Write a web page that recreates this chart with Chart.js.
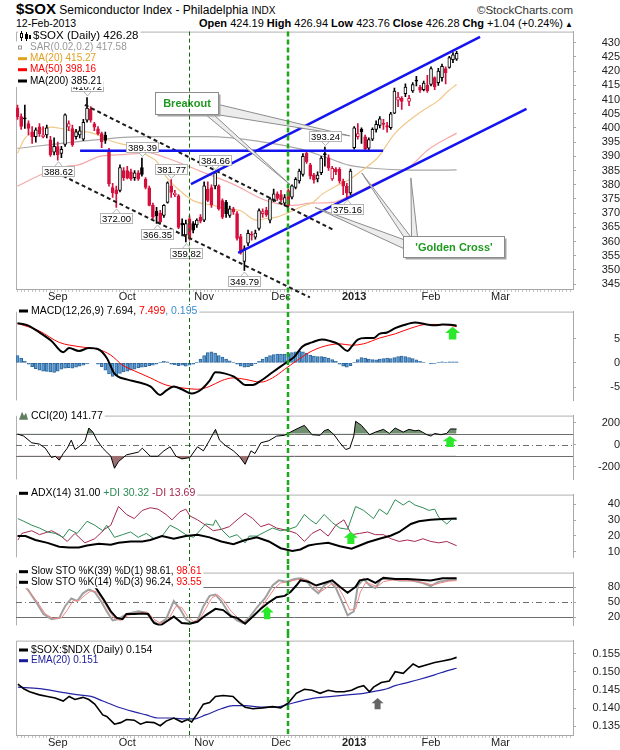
<!DOCTYPE html>
<html>
<head>
<meta charset="utf-8">
<script src="https://cdn.jsdelivr.net/npm/chart.js@4.4.1/dist/chart.umd.min.js"></script>
<style>
  body { margin: 0; background: #fff; width: 620px; height: 750px; overflow: hidden; position: relative; font-family: "Liberation Sans", Arial, sans-serif; }
  canvas { position: absolute; left: 0; }
  .hd { position: absolute; white-space: nowrap; color: #000; }
</style>
</head>
<body>
<div class="hd" style="left:16px;top:0;line-height:18px"><span style="font-weight:bold;font-size:15px">$SOX</span><span style="font-size:12px"> Semiconductor Index - Philadelphia </span><span style="font-size:10px">INDX</span></div>
<div class="hd" style="right:47px;top:2px;line-height:16px;font-size:11.5px;color:#333">&copy;StockCharts.com</div>
<div class="hd" style="left:16px;top:17px;line-height:12px;font-size:10.5px">12-Feb-2013</div>
<div class="hd" style="right:47px;top:17px;line-height:12px;font-size:11px"><b>Open</b> 424.19 <b>High</b> 426.94 <b>Low</b> 423.76 <b>Close</b> 426.28 <b>Chg</b> +1.04 (+0.24%)<span style="font-size:8px"> &#9650;</span></div>

<canvas id="cMain" width="620" height="280" style="top:24px"></canvas>
<canvas id="cMacd" width="620" height="104" style="top:304px"></canvas>
<canvas id="cCci" width="620" height="79" style="top:408px"></canvas>
<canvas id="cAdx" width="620" height="78" style="top:487px"></canvas>
<canvas id="cSto" width="620" height="68" style="top:565px"></canvas>
<canvas id="cRatio" width="620" height="117" style="top:633px"></canvas>

<script>
const FONT = '"Liberation Sans", Arial, sans-serif';
Chart.defaults.font.family = FONT;

// time axis: one slot per trading day, bar 0 = 17-Aug-2012
const monthBars = [11, 30, 51, 72, 92, 113, 132];
const monthLabels = ['Sep', 'Oct', 'Nov', 'Dec', '2013', 'Feb', 'Mar'];
const markerBars = [47, 74];

// $SOX daily candles
const open = [
  407.0,404.0,403.5,401.5,398.6,396.9,400.4,396.8,397.5,395.8,
  391.5,393.4,391.0,394.2,400.3,399.8,396.9,397.5,396.0,402.7,
  406.6,401.4,399.7,398.0,397.5,392.3,379.0,378.2,378.0,385.0,
  385.0,384.5,382.5,384.2,386.0,382.0,378.9,372.7,370.7,370.0,
  369.2,373.8,379.6,376.5,376.1,366.5,362.3,368.0,366.3,365.8,
  368.6,367.5,378.5,379.0,379.6,379.6,374.4,373.8,369.2,371.5,
  369.8,361.7,353.0,359.4,362.6,361.5,364.6,369.8,371.0,367.5,
  374.5,376.8,376.5,373.5,377.9,375.6,379.0,381.3,383.6,391.1,
  387.0,383.5,382.0,384.2,391.0,389.5,382.0,385.5,385.4,381.3,
  379.5,377.1,393.0,396.9,399.5,396.9,392.9,396.0,399.5,400.9,
  401.7,400.8,400.1,405.2,409.8,410.5,412.1,409.3,413.0,416.8,
  414.4,413.5,415.0,415.3,417.7,415.9,417.7,420.9,421.3,424.0,
  424.19];
const high = [
  408.0,405.0,408.0,402.5,400.5,400.0,401.5,400.5,401.0,397.0,
  396.5,395.0,393.5,405.0,402.5,401.0,399.5,400.5,403.0,410.72,
  407.5,402.0,400.5,398.5,398.5,392.8,380.5,379.5,387.0,386.0,
  386.5,385.5,385.0,385.0,389.39,382.5,379.5,373.5,372.0,371.0,
  373.0,381.0,381.77,378.0,376.5,368.0,367.5,369.0,367.0,368.0,
  369.5,381.0,381.0,380.0,384.66,380.0,375.0,374.5,372.5,372.0,
  370.5,362.5,358.5,364.0,363.5,364.0,371.5,371.5,372.0,375.5,
  378.5,377.5,378.0,376.5,378.5,380.0,382.5,385.5,391.0,392.0,
  387.5,384.0,384.5,390.0,393.24,390.5,386.5,386.0,386.0,382.0,
  380.5,385.5,400.5,401.5,400.0,397.5,396.5,400.0,402.5,404.0,
  403.0,402.0,405.5,414.0,412.5,411.0,415.5,411.5,416.0,418.2,
  415.0,416.5,418.5,421.5,418.0,421.0,422.5,421.5,425.2,426.5,
  426.94];
const low = [
  403.0,399.5,399.8,397.5,394.5,395.0,397.0,396.5,396.5,390.0,
  390.5,388.62,389.5,393.5,399.0,393.5,396.0,396.5,395.5,402.0,
  402.0,399.0,397.5,393.0,394.5,379.5,375.5,372.00,377.5,381.5,
  382.0,381.5,381.5,381.5,383.0,378.5,372.5,368.0,366.35,366.5,
  368.5,373.5,375.5,375.8,364.5,362.0,359.82,360.5,363.0,365.0,
  366.5,367.0,374.0,372.0,378.5,371.0,368.0,368.5,368.5,369.5,
  360.5,355.5,349.79,358.5,360.5,360.8,364.0,368.5,368.8,366.5,
  374.0,374.5,374.0,372.5,372.0,375.0,378.5,380.5,383.0,387.5,
  382.0,380.5,381.0,383.5,386.5,385.0,381.5,383.5,380.5,376.5,
  375.16,376.5,392.5,396.0,394.5,391.7,392.0,395.5,398.5,400.0,
  399.5,398.5,399.5,405.0,407.5,406.5,411.0,407.8,412.5,414.8,
  412.5,413.0,412.5,414.8,413.5,415.0,416.5,415.5,421.0,423.0,
  423.76];
const close = [
  404.0,400.5,403.2,399.8,396.9,399.3,398.0,397.6,400.0,390.6,
  393.5,390.5,392.5,404.6,401.5,394.1,398.6,399.0,402.0,407.0,
  402.7,400.3,398.0,395.2,395.6,380.3,377.2,376.8,386.0,382.5,
  382.3,382.0,384.2,382.0,383.6,379.0,372.7,368.6,369.0,366.9,
  372.7,380.7,377.3,377.0,365.0,365.8,366.3,361.1,364.0,367.5,
  367.2,379.6,374.5,373.0,384.2,371.5,368.6,369.8,371.5,370.4,
  361.1,356.0,357.5,362.9,362.2,363.0,370.9,370.5,369.4,375.0,
  376.8,375.2,374.6,375.5,372.7,379.6,381.9,384.8,390.0,388.0,
  383.0,381.7,383.4,389.4,390.5,386.0,385.8,384.5,381.3,379.5,
  377.0,384.8,400.0,398.0,398.6,392.5,395.9,399.5,401.3,403.2,
  401.2,400.3,405.0,413.0,410.9,409.3,414.4,410.4,415.3,416.5,
  413.3,415.8,413.0,420.9,414.4,420.0,421.7,419.4,424.8,425.7,
  426.28];

// moving averages: [bar, value]
const ma20 = [[0,391.1],[2,396.3],[6,399.2],[9,400.3],[12,399.8],[15,398.9],[19,398.6],[22,397.5],[26,395.2],[29.5,394],[33,392.8],[35.3,390.5],[38,388.2],[40.8,382.5],[44.4,377.9],[48,374.4],[53.5,372.7],[57.2,371.5],[60.8,370.9],[65.4,367.5],[68,368.1],[70.8,368.6],[74.5,370.4],[78,372.5],[80.8,373.8],[83.1,376.5],[87.2,379.6],[90.8,381.9],[94.5,385.4],[98.4,389.5],[103.1,398],[109.5,405],[112.2,407.3],[115,409.6],[117.7,413],[120,415.27]];
const ma50 = [[0,379.5],[7.6,384.2],[13.4,386.5],[16.7,387],[22.5,390],[25.8,390.4],[33.5,391.1],[34.9,391.5],[40.8,389.4],[49.9,384.8],[58.9,380.2],[68,374.4],[75.3,372.7],[80,373.5],[86.2,373.8],[91.7,376.7],[97.2,380.2],[102.6,383.6],[107.2,386.4],[112.2,392.3],[120,398.16]];
const ma200 = [[0,392.8],[16.7,395.2],[34.9,396.9],[52.6,396.9],[66.3,395.2],[77.2,392.6],[84.8,389.4],[90.8,386.8],[97,385.8],[104.5,385.2],[112,385.1],[120,385.21]];

// MACD(12,26,9)
const macdLine = [[0,8.17],[2.8,7.76],[6,6.29],[9.3,4.52],[12.5,2.18],[14.1,3.06],[16.8,2.47],[19.5,3.06],[22.2,2.76],[24.4,1.0],[26.5,-2.23],[29.8,-3.41],[33,-4.0],[36.3,-4.88],[39,-6.64],[40.6,-5.76],[42.7,-4.88],[44.9,-5.47],[47.6,-6.35],[50.3,-5.47],[52.5,-3.7],[54.1,-1.94],[56.8,-2.23],[59,-2.82],[60.6,-3.7],[62.2,-4.59],[64.3,-4.59],[66.5,-3.7],[69.7,-1.94],[73,-0.18],[75.7,1.29],[77.8,3.35],[80.5,4.23],[83.2,4.82],[85.4,4.52],[87.6,3.94],[90.2,2.47],[91.3,3.35],[93,4.82],[95.1,5.12],[97.3,5.12],[98.9,6.0],[101,6.29],[103.2,7.17],[105.4,7.76],[108.6,8.35],[111.8,7.94],[114,7.76],[116.2,7.94],[118.3,7.88],[120,7.694]];
const signalLine = [[0,8.17],[6,6.58],[11.4,4.23],[16.8,3.35],[22.2,2.76],[25.5,1.59],[28.7,-0.47],[31.9,-1.64],[36.3,-3.11],[40.6,-4.59],[44.9,-5.17],[49.2,-5.47],[52.5,-4.88],[55.7,-3.7],[59,-3.11],[62.2,-3.41],[66.5,-4.0],[69.7,-3.11],[73,-1.35],[76.2,0.41],[80.5,2.47],[84.9,3.64],[88.1,3.94],[91.3,3.64],[94.6,3.94],[98.9,5.12],[103.2,6.0],[107.5,7.17],[111.8,7.94],[116.2,7.94],[120,7.499]];
const macdHist = [
  1.5,1.0, 0.3,-0.3,-0.8,-1.2,-1.5, -1.7,-1.8,-1.9,-2.0,-1.7,-1.3,
  -1.1,-1.0,-1.1,-0.9,-0.7,-0.5, -0.2,0.0,0.0,-0.3,-0.8,
  -1.5,-2.3,-2.8,-2.5,-2.2,-1.9, -1.7,-1.5,-1.3,-1.0,-0.9,-0.8,
  -0.6,-0.5,-0.3,0.1,0.3,0.2, -0.3,-0.4,-0.6,-0.5,-0.7,-0.5,
  -0.3,0.1,0.8,1.5,2.1, 2.3,2.0,1.5,1.2,0.8,0.4,
  0.1,-0.3,-0.7,-0.9,-0.8,-0.6, -0.2,0.3,0.8,1.2,1.5,1.7,
  1.8,1.8,1.8,1.9,2.1,2.3, 2.4,2.3,2.0,1.6,1.4,1.3,
  1.3,1.2,1.0,0.7,0.3,-0.3, -0.7,-0.9,-0.6,0.1,0.7,
  1.1,1.0,0.8,0.7,0.6,0.8, 0.9,1.0,0.9,1.1,1.3,1.4,
  1.3,1.1,0.9,0.6,0.3,0.1, 0.0,-0.2,-0.1,0.1,0.2,0.1,
  0.2,0.2,0.195];

// CCI(20)
const cci = [[0,97],[1.7,78],[3.9,17],[6,5],[7.6,-32],[9.3,-117],[10.3,-105],[11.4,-141],[12.5,-80],[13.6,-32],[14.7,41],[15.7,-44],[16.8,-19],[18.4,29],[19.5,151],[20.6,114],[21.7,41],[23.3,-32],[24.4,-68],[25.5,-105],[26.5,-214],[27.6,-153],[29.8,-92],[33,-68],[34.1,-32],[36.3,-105],[38.4,-105],[40,-56],[41.7,-19],[43.3,-105],[44.9,-129],[47.1,-117],[49.2,-19],[50.8,-56],[52.5,41],[54.1,139],[55.2,41],[56.8,-7],[59,-56],[60.6,-105],[62.2,-178],[63.8,-56],[64.9,-80],[66.5,17],[68.7,36],[70.8,78],[73,85],[74.6,114],[76.8,151],[78.4,175],[80.5,90],[82.7,85],[83.8,126],[84.9,139],[86.5,90],[88.1,17],[89.7,-44],[90.8,-32],[91.9,78],[92.4,212],[94,175],[96.2,90],[97.8,114],[100,139],[101.6,102],[103.2,151],[105.4,114],[107,139],[108.6,126],[109.7,131],[111.9,90],[113,78],[114,102],[115.7,90],[117.3,102],[118.3,143],[120,141.77]];

// ADX(14) with +DI / -DI
const adx = [[0,19.8],[2.2,19.8],[4.9,17.3],[8.2,15.5],[11.4,13],[14.1,12.6],[16.8,12.6],[19,13.8],[22.2,15],[25.5,14.3],[27.6,15.5],[30.9,16.4],[34.1,16.4],[36.3,17.3],[39.5,19.8],[42.7,18.1],[46,19.8],[49.2,20.7],[52.5,19],[55.7,16.4],[59,14.7],[62.2,17.3],[65.4,19],[68.7,16.4],[71.9,12.1],[75.1,10.4],[77.3,11.3],[79.5,13.8],[81.6,14.7],[84.9,15.5],[88.1,13.3],[91.3,11.8],[93.5,13.8],[95.7,15.9],[98.9,18.1],[102.1,20.2],[104.3,22.4],[107.5,27.5],[109.7,29.2],[112.9,30.1],[116.2,30.6],[120,31.0]];
const plusDI = [[0.1,30.9],[1.7,29.2],[3.9,26.7],[6,24.9],[8.2,22.4],[10.3,21.5],[12.5,19],[14.1,24.1],[16.3,21.5],[19,29.2],[21.1,26.7],[23.3,23.2],[24.4,26.7],[26.5,19],[28.7,20.7],[30.9,22.4],[33,19],[35.2,21.5],[37.3,18.1],[39.5,19.8],[41.7,26.7],[43.8,24.1],[46,20.7],[48.1,19],[49.8,23.2],[51.4,27.5],[53.5,26.7],[54.1,30.1],[55.7,24.1],[57.9,19],[60,20.7],[62.2,15.5],[63.3,19.8],[65.4,19.8],[67.6,22.4],[69.7,24.9],[71.9,23.2],[74.1,24.1],[76.2,25.8],[78.4,33.5],[80,30.1],[81.6,27.5],[83.8,33.5],[86,28.4],[88.1,24.9],[90.2,24.1],[92.4,38.6],[94.6,36.1],[97.3,30.9],[98.9,36.9],[101,33.5],[103.2,42.9],[105.4,39.5],[107,42.1],[108.6,39.5],[110.8,37.8],[112.4,36.1],[114,36.9],[115.1,31.8],[117.3,27.5],[118.9,30.9],[120,30.32]];
const minusDI = [[0.1,17.3],[1.2,21.5],[3.9,23.2],[6,20.7],[9.3,23.2],[11.4,20.7],[13.6,16.4],[15.7,21.5],[18.4,15.5],[21.1,18.1],[23.8,24.1],[25.5,26.7],[27.6,38.6],[29.8,33.5],[31.9,30.9],[34.1,36.1],[36.3,37.8],[38.4,36.9],[40.6,33.5],[42.2,30.1],[44.4,35.2],[46,36.9],[47.1,32.6],[49.2,30.1],[51.4,26.7],[53.5,23.2],[55.7,24.1],[57.9,25.8],[60,30.1],[62.2,34.3],[64.3,30.9],[66.5,25.8],[68.7,27.5],[70.8,24.9],[74.1,23.2],[76.2,21.5],[78.4,16.4],[80.5,21.5],[82.7,24.1],[84.9,19.8],[87,26.7],[89.2,30.1],[91.3,20.7],[93.5,21.5],[95.7,22.4],[97.8,20.7],[100,20.7],[102.1,18.1],[104.3,16.4],[106.5,17.3],[108.6,16.4],[110.8,18.1],[112.9,16.4],[115.1,15.5],[117.3,16.4],[120,13.69]];

// Slow stochastics
const stoK39 = [[20.5,86],[21.7,75.9],[23.8,52.4],[25.5,31.5],[27.1,18.4],[28.7,15.8],[29.8,26.3],[31.9,26.3],[34.1,27.3],[35.7,26.3],[37.3,8],[39,2.8],[40.6,10.6],[42.7,21],[44.9,8],[47.1,6.4],[49.2,10.6],[51.4,23.6],[54.1,36.7],[56.2,34.1],[58.4,21],[60,18.4],[62.2,6.4],[64.3,21],[66.5,36.7],[68.7,49.8],[70.8,60.2],[73,62.8],[74.6,70.6],[76.2,83.7],[77.3,94.1],[79.5,91.5],[81.6,83.7],[83.8,88.9],[86,94.1],[88.1,81.1],[90.2,69.1],[92.4,81.1],[93.5,94.1],[95.7,96.8],[97.8,88.9],[100,99.4],[103.2,96.8],[106.5,96.8],[109.7,95.2],[112.9,94.1],[116.2,98.3],[120,98.61]];
const stoK14 = [[1.5,86],[2.8,75.9],[4.9,52.4],[7.1,26.3],[9.3,15.8],[11.4,18.4],[13,41.9],[14.7,57.6],[16.3,52.4],[17.9,68],[19.5,75.9],[21.1,70.6],[22.8,52.4],[24.4,31.5],[26,13.2],[27.6,15.8],[29.8,26.3],[33,31.5],[35.2,28.9],[36.8,13.2],[38.4,5.4],[40.6,15.8],[42.7,52.4],[44.4,36.7],[46,15.8],[47.6,8],[49.2,13.2],[50.8,41.9],[52.5,62.8],[54.1,65.4],[55.7,52.4],[57.9,26.3],[60,13.2],[61.6,8],[63.3,18.4],[65.4,39.3],[67.6,57.6],[69.7,83.7],[71.4,94.1],[73.5,91.5],[75.7,96.8],[77.3,98.3],[78.9,94.1],[80.5,78.5],[82.2,68],[83.8,83.7],[85.4,91.5],[87,78.5],[88.6,52.4],[90.2,23.6],[91.9,31.5],[93,83.7],[94.6,96.8],[96.2,83.7],[97.8,78.5],[99.4,96.8],[102.1,96.8],[104.3,94.1],[107.5,94.1],[110.8,88.9],[112.9,82.7],[115.1,91.5],[117.3,94.1],[120,96.24]];
const stoD3 = [[2,80],[3.3,70.6],[5.5,49.8],[7.6,26.3],[9.8,16.9],[12,18.4],[13.6,34.1],[15.2,53.4],[16.8,53.4],[18.4,63.9],[20.1,73.3],[21.7,70.6],[23.3,55],[24.9,34.1],[26.5,16.9],[28.2,13.2],[30.3,23.6],[33,28.9],[35.7,28.9],[37.3,15.8],[39,8],[41.1,13.2],[43.3,41.9],[44.9,39.3],[46.5,21],[48.1,10.6],[49.8,15.8],[51.4,36.7],[53,57.6],[54.6,65.4],[56.2,55],[58.4,31.5],[60.6,15.8],[62.2,9.5],[63.8,15.8],[66,34.1],[68.1,55],[70.3,78.5],[71.9,88.9],[74.1,91.5],[76.2,95.2],[77.8,96.8],[79.5,94.1],[81.1,81.1],[82.7,70.6],[84.3,78.5],[86,87.9],[87.6,81.1],[89.2,60.2],[90.8,34.1],[92.4,36.7],[93.7,70.6],[95.1,88.9],[96.7,86.3],[98.3,81.1],[100,91.5],[102.7,95.2],[104.8,94.1],[108.1,93.1],[111.3,88.9],[113.5,84.7],[115.6,88.9],[117.8,92.6],[120,93.55]];

// $SOX:$NDX ratio and its EMA(20)
const ratio = [[0.1,0.14662],[1.7,0.14535],[3.3,0.1445],[6,0.14365],[8.2,0.14322],[10.3,0.1428],[12.5,0.14194],[14.1,0.14322],[15.7,0.14237],[17.9,0.14296],[19.5,0.14237],[21.1,0.14109],[23.3,0.13811],[24.4,0.13769],[26.5,0.13556],[28.2,0.13598],[29.8,0.13683],[31.9,0.13666],[33.6,0.13556],[35.2,0.13615],[37.3,0.13598],[39,0.13513],[40.6,0.13641],[42.7,0.13726],[44.9,0.13615],[46.5,0.13683],[47.6,0.13615],[49.2,0.13854],[50.8,0.14109],[52.5,0.14152],[54.1,0.14322],[56.2,0.14348],[58.9,0.14322],[60.6,0.14152],[62.2,0.14024],[64.3,0.13981],[67,0.14007],[69.7,0.14041],[71.9,0.14007],[74.1,0.14152],[76.2,0.14407],[78.4,0.14518],[80.5,0.14492],[82.7,0.14407],[84.9,0.14492],[87,0.1445],[89.2,0.1445],[91.3,0.14492],[93,0.14577],[94.6,0.1462],[96.2,0.1445],[97.3,0.14577],[99.4,0.14705],[101.6,0.14748],[103.2,0.15003],[105.4,0.14961],[108.1,0.15216],[109.7,0.15131],[111.9,0.15199],[114,0.15259],[116.2,0.15301],[118.3,0.15344],[120,0.154]];
const ema20 = [[0.1,0.14577],[6,0.14535],[11.4,0.1445],[16.8,0.14365],[20.1,0.14322],[23.3,0.14194],[27.6,0.14024],[31.9,0.13896],[35.2,0.13811],[38.4,0.13726],[41.7,0.13726],[44.9,0.13701],[48.1,0.13701],[51.4,0.13811],[55.7,0.13981],[59,0.14067],[62.2,0.14067],[66.5,0.14024],[70.8,0.14024],[74.1,0.14109],[77.3,0.14194],[81.6,0.1428],[86,0.14322],[90.2,0.14365],[94.6,0.14407],[97.8,0.14467],[101,0.14535],[103.2,0.1462],[106.5,0.14705],[109.7,0.1479],[114,0.14918],[117.3,0.15029],[120,0.151]];

// axis tick values
const mainTicks = [345,350,355,360,365,370,375,380,385,390,395,400,405,410,415,420,425,430];
const macdTicks = [-5, 0, 5];
const cciTicks = [-200, 0, 200];
const adxTicks = [10, 20, 30, 40];
const stoTicks = [20, 50, 80];
const ratioTicks = [0.135, 0.140, 0.145, 0.150, 0.155];

// drawn annotations, in [bar, value] terms
const blueLines = [[47.4,380.2,126.4,432.1],[60.3,356.0,139.1,406.7],[17.1,392.0,99.9,392.0]];
const dashLines = [[18.4,408.1,86.2,364.2],[10.7,384.2,79.9,340.3]];
const priceTags = [[11,'L'],[19,'H'],[27,'L'],[34,'H'],[38,'L'],[42,'H'],[46,'L'],[54,'H'],[62,'L'],[84,'H'],[90,'L']];
const callouts = [
  {text: 'Breakout', at: [37.6, 412.5], w: 63, h: 22, tips: [[90.8, 397.2], [74.5, 380.0]], bases: [[63, 12, 61, 22], [50, 22, 58, 22]]},
  {text: "'Golden Cross'", at: [105.4, 361.9], w: 101, h: 21, tips: [[81.3, 372.0], [94.1, 384.1], [107.5, 382.4]], bases: [[0, 3, 0, 12], [0, 0, 7, 0], [8, 0, 14, 0]]}
];

const RED = '#d4103c';
const pts = a => a.map(([x, y]) => ({x, y}));
const candleColor = close.map((c, i) => (i > 0 && c >= close[i - 1]) ? '#000' : RED);
const bodyFill = close.map((c, i) => c > open[i] ? '#fff' : candleColor[i]);

function xScale(show, h) {
  return {
    type: 'linear', min: -0.41, max: 151.8, display: show, offset: false,
    afterBuildTicks: s => { const t = []; for (let k = 0; k <= 151; k++) t.push({value: k}); s.ticks = t; },
    afterFit: s => { s.height = h; },
    grid: {drawOnChartArea: false, tickLength: 3, color: '#c4c4c4', offset: false},
    border: {color: '#a8a8a8'},
    ticks: {
      autoSkip: false, maxRotation: 0, padding: -2, color: '#222',
      font: c => ({family: FONT, size: 11, weight: (c.tick && c.tick.value === 92) ? 'bold' : 'normal'}),
      callback: v => { const k = monthBars.indexOf(v); return k < 0 ? '' : monthLabels[k]; }
    }
  };
}

function yScale(min, max, ticks, fmt) {
  return {
    position: 'right', min: min, max: max,
    afterBuildTicks: s => { s.ticks = ticks.map(v => ({value: v})); },
    afterFit: s => { s.width = 47; },
    grid: {drawOnChartArea: false, tickLength: 3, color: '#a8a8a8'},
    border: {color: '#a8a8a8'},
    ticks: {autoSkip: false, padding: 1, crossAlign: 'far', color: '#222', font: {size: 11}, callback: fmt || (v => String(v))}
  };
}

function legendRow(ctx, x, y, size, parts, icon, off) {
  ctx.save();
  ctx.font = size + 'px ' + FONT;
  ctx.textBaseline = 'middle';
  const tx = x + (off || 12);
  let w = 0;
  parts.forEach(p => { w += ctx.measureText(p[0]).width; });
  ctx.fillStyle = '#fff';
  ctx.fillRect(x - 2, y - 6, tx - x + w + 4, 12);
  if (icon) icon(ctx, x, y);
  let cx = tx;
  parts.forEach(([t, c]) => { ctx.fillStyle = c; ctx.fillText(t, cx, y); cx += ctx.measureText(t).width; });
  ctx.restore();
}
const lineIcon = col => (ctx, x, y) => { ctx.fillStyle = col; ctx.fillRect(x, y - 1.5, 9, 3); };
const soxIcon = (ctx, x, y) => {
  ctx.strokeStyle = '#000'; ctx.fillStyle = '#000'; ctx.lineWidth = 1;
  ctx.beginPath(); ctx.moveTo(x + 1.5, y - 5); ctx.lineTo(x + 1.5, y + 5); ctx.moveTo(x + 6.5, y - 4); ctx.lineTo(x + 6.5, y + 5); ctx.stroke();
  ctx.fillRect(x, y - 3, 3, 5); ctx.clearRect(x + 1, y - 2, 1, 3);
  ctx.fillRect(x + 5, y - 2, 3, 5);
  ctx.fillRect(x + 9, y - 1, 2, 4);
};
const sarIcon = (ctx, x, y) => { ctx.strokeStyle = '#999'; ctx.lineWidth = 1; ctx.strokeRect(x + 0.5, y - 1.5, 3, 3); };
const cciIcon = (ctx, x, y) => {
  ctx.fillStyle = '#5f7f5f'; ctx.beginPath();
  ctx.moveTo(x, y + 4); ctx.lineTo(x + 3, y - 4); ctx.lineTo(x + 5, y); ctx.lineTo(x + 7, y - 3); ctx.lineTo(x + 9, y + 4); ctx.closePath(); ctx.fill();
};

function upArrow(ctx, cx, top, bottom, w, col) {
  const hh = (bottom - top) * 0.48, sw = w * 0.5;
  ctx.save();
  ctx.fillStyle = col;
  ctx.beginPath();
  ctx.moveTo(cx, top); ctx.lineTo(cx + w / 2, top + hh); ctx.lineTo(cx + sw / 2, top + hh);
  ctx.lineTo(cx + sw / 2, bottom); ctx.lineTo(cx - sw / 2, bottom); ctx.lineTo(cx - sw / 2, top + hh);
  ctx.lineTo(cx - w / 2, top + hh); ctx.closePath(); ctx.fill();
  ctx.restore();
}
function arrowAt(chart, a, w, col) {
  const xs = chart.scales.x, ys = chart.scales.y;
  upArrow(chart.ctx, xs.getPixelForValue(a[0]), ys.getPixelForValue(a[1]), ys.getPixelForValue(a[2]), w, col);
}

// frame, reference lines, date markers and legends for every panel
function panel(cfg) {
  return {
    id: 'panel',
    beforeDatasetsDraw(chart) {
      const {ctx, chartArea: a} = chart;
      ctx.save();
      ctx.strokeStyle = '#b0b0b0'; ctx.lineWidth = 1;
      ctx.beginPath();
      ctx.moveTo(a.left + 0.5, a.bottom); ctx.lineTo(a.left + 0.5, a.top + 0.5); ctx.lineTo(a.right, a.top + 0.5);
      ctx.stroke();
      (cfg.refs || []).forEach(([v, dash]) => {
        const y = Math.round(chart.scales.y.getPixelForValue(v)) + 0.5;
        ctx.strokeStyle = '#6e6e6e'; ctx.setLineDash(dash);
        ctx.beginPath(); ctx.moveTo(a.left, y); ctx.lineTo(a.right, y); ctx.stroke();
      });
      ctx.restore();
    },
    afterDatasetsDraw(chart) {
      const {ctx, chartArea: a} = chart;
      if (cfg.extra) cfg.extra(chart);
      ctx.save();
      const y0 = cfg.span === 'main' ? a.top : 0;
      const y1 = cfg.span === 'last' ? a.bottom : chart.height;
      markerBars.forEach((b, k) => {
        const x = Math.round(chart.scales.x.getPixelForValue(b)) + (k ? 0 : 0.5);
        ctx.strokeStyle = k ? '#18a818' : '#0a6a0a';
        ctx.lineWidth = k ? 2.5 : 1;
        ctx.setLineDash(k ? [5, 3] : [4, 3]);
        ctx.beginPath(); ctx.moveTo(x, y0); ctx.lineTo(x, y1); ctx.stroke();
      });
      ctx.restore();
    },
    afterDraw(chart) { if (cfg.legend) cfg.legend(chart.ctx); }
  };
}

function drawMainExtras(chart) {
  const {ctx} = chart, xs = chart.scales.x, ys = chart.scales.y;
  const seg = l => { ctx.beginPath(); ctx.moveTo(xs.getPixelForValue(l[0]), ys.getPixelForValue(l[1])); ctx.lineTo(xs.getPixelForValue(l[2]), ys.getPixelForValue(l[3])); ctx.stroke(); };
  ctx.save();
  ctx.lineWidth = 2; ctx.strokeStyle = '#1a1a1a'; ctx.setLineDash([4, 3]);
  dashLines.forEach(seg);
  ctx.setLineDash([]); ctx.lineWidth = 2.5; ctx.strokeStyle = '#1414ee';
  blueLines.forEach(seg);

  // callouts
  callouts.forEach(c => {
    const bx = Math.round(xs.getPixelForValue(c.at[0])) + 0.5, by = Math.round(ys.getPixelForValue(c.at[1])) + 0.5;
    c.tips.forEach((t, k) => {
      const b = c.bases[k];
      ctx.beginPath();
      ctx.moveTo(bx + b[0], by + b[1]);
      ctx.lineTo(xs.getPixelForValue(t[0]), ys.getPixelForValue(t[1]));
      ctx.lineTo(bx + b[2], by + b[3]);
      ctx.closePath();
      ctx.fillStyle = '#ececec'; ctx.fill();
      ctx.strokeStyle = '#8c8c8c'; ctx.lineWidth = 1; ctx.stroke();
    });
    ctx.fillStyle = '#a4a4a4'; ctx.fillRect(bx + 2, by + 2, c.w, c.h);
    ctx.fillStyle = '#fff'; ctx.fillRect(bx, by, c.w, c.h);
    ctx.strokeStyle = '#8c8c8c'; ctx.strokeRect(bx, by, c.w, c.h);
    ctx.fillStyle = '#1f9a1f'; ctx.font = 'bold 11px ' + FONT; ctx.textAlign = 'center'; ctx.textBaseline = 'middle';
    ctx.fillText(c.text, bx + c.w / 2, by + c.h / 2 + 0.5);
  });

  // high / low price tags
  ctx.font = '9.5px ' + FONT; ctx.textAlign = 'center'; ctx.textBaseline = 'middle';
  priceTags.forEach(([b, side]) => {
    const v = side === 'H' ? high[b] : low[b];
    const x = Math.round(xs.getPixelForValue(b)) + 0.5, y = ys.getPixelForValue(v);
    const dir = side === 'H' ? -1 : 1;
    const w = 32, h = 10;
    const cy = Math.round(y + dir * 11) + 0.5;
    const edge = cy - dir * h / 2;
    ctx.strokeStyle = '#b4b4b4'; ctx.fillStyle = '#fff'; ctx.lineWidth = 1;
    ctx.beginPath(); ctx.moveTo(x - 4, edge); ctx.lineTo(x, y + dir * 1.5); ctx.lineTo(x + 4, edge); ctx.closePath(); ctx.fill(); ctx.stroke();
    ctx.fillRect(x - w / 2, cy - h / 2, w, h);
    ctx.strokeRect(x - w / 2, cy - h / 2, w, h);
    ctx.fillStyle = '#000'; ctx.fillText(v.toFixed(2), x, cy + 0.5);
  });
  ctx.restore();
}

const baseOpts = (padTop) => ({
  responsive: false, animation: false,
  layout: {padding: {left: 16, right: 0, top: padTop, bottom: 0}},
  plugins: {legend: {display: false}, tooltip: {enabled: false}}
});
const lineDs = (data, color, width, order, smooth) => ({
  type: 'line', data: pts(data), borderColor: color, borderWidth: width, pointRadius: 0,
  fill: false, order: order, cubicInterpolationMode: smooth ? 'monotone' : 'default', tension: 0
});

// price panel
new Chart(document.getElementById('cMain'), {
  type: 'bar',
  data: {
    datasets: [
      {type: 'bar', data: close.map((c, i) => ({x: i, y: [open[i], c]})), backgroundColor: bodyFill, borderColor: candleColor,
       borderWidth: 1, borderSkipped: false, barThickness: 3, minBarLength: 1, grouped: false, order: 1},
      {type: 'bar', data: high.map((h, i) => ({x: i, y: [low[i], h]})), backgroundColor: candleColor,
       borderWidth: 0, barThickness: 1, grouped: false, order: 2},
      lineDs(ma20, '#f0c888', 1.2, 3, true),
      lineDs(ma50, '#f5aaaa', 1.2, 4, true),
      lineDs(ma200, '#a8a8a8', 1.2, 5, true)
    ]
  },
  options: Object.assign(baseOpts(4), {scales: {x: xScale(true, 15), y: yScale(343.27, 433.92, mainTicks)}}),
  plugins: [panel({
    span: 'main',
    extra: drawMainExtras,
    legend: ctx => {
      legendRow(ctx, 20, 12, 11.5, [['$SOX (Daily) 426.28', '#000']], soxIcon, 13);
      legendRow(ctx, 18, 23.5, 10, [['SAR(0.02,0.2) 417.58', '#999']], sarIcon);
      legendRow(ctx, 18, 34.7, 10, [['MA(20) 415.27', '#e0a020']], lineIcon('#e0a020'));
      legendRow(ctx, 18, 45.7, 10, [['MA(50) 398.16', '#f00']], lineIcon('#f00'));
      legendRow(ctx, 18, 57, 10, [['MA(200) 385.21', '#000']], lineIcon('#000'));
    }
  })]
});

// MACD
new Chart(document.getElementById('cMacd'), {
  type: 'bar',
  data: {
    datasets: [
      lineDs(macdLine, '#000', 2, 1, true),
      lineDs(signalLine, '#f00', 1, 2, true),
      {type: 'bar', data: macdHist.map((v, i) => ({x: i, y: v})), backgroundColor: '#5b9bd5', borderColor: '#2f679a',
       borderWidth: 1, borderSkipped: false, barThickness: 3, grouped: false, order: 3}
    ]
  },
  options: Object.assign(baseOpts(0), {scales: {x: xScale(false, 0), y: yScale(-7.77, 10.6, macdTicks)}}),
  plugins: [panel({
    extra: ch => arrowAt(ch, [118.9, 7.47, 4.82], 15, '#2be82b'),
    legend: ctx => legendRow(ctx, 19, 7, 10.5, [['MACD(12,26,9) 7.694, ', '#000'], ['7.499', '#f00'], [', 0.195', '#3a8fd0']], lineIcon('#000'))
  })]
});

// CCI
new Chart(document.getElementById('cCci'), {
  type: 'line',
  data: {
    datasets: [
      {data: pts(cci), borderColor: '#000', borderWidth: 1, pointRadius: 0, tension: 0, order: 1,
       fill: {target: {value: 100}, above: '#6f8f6f', below: 'rgba(0,0,0,0)'}},
      {data: pts(cci), borderColor: 'rgba(0,0,0,0)', borderWidth: 0, pointRadius: 0, tension: 0, order: 2,
       fill: {target: {value: -100}, above: 'rgba(0,0,0,0)', below: '#9c7070'}}
    ]
  },
  options: Object.assign(baseOpts(0), {scales: {x: xScale(false, 0), y: yScale(-315, 263.7, cciTicks)}}),
  plugins: [panel({
    refs: [[100, []], [-100, []], [0, [6, 3, 1, 3]]],
    extra: ch => arrowAt(ch, [118.2, 78, -20], 15, '#2be82b'),
    legend: ctx => legendRow(ctx, 19, 7.7, 10.5, [['CCI(20) 141.77', '#000']], cciIcon)
  })]
});

// ADX
new Chart(document.getElementById('cAdx'), {
  type: 'line',
  data: {
    datasets: [
      lineDs(adx, '#000', 2, 1, false),
      lineDs(plusDI, '#2e8b57', 1, 2, false),
      lineDs(minusDI, '#a3284f', 1, 3, false)
    ]
  },
  options: Object.assign(baseOpts(0), {scales: {x: xScale(false, 0), y: yScale(6.27, 46.13, adxTicks)}}),
  plugins: [panel({
    extra: ch => arrowAt(ch, [91.1, 22.5, 14.8], 14, '#2be82b'),
    legend: ctx => legendRow(ctx, 19, 6.3, 10.5, [['ADX(14) 31.00 ', '#000'], ['+DI 30.32 ', '#2e8b57'], ['-DI 13.69', '#a3284f']], lineIcon('#000'))
  })]
});

// Slow stochastics
new Chart(document.getElementById('cSto'), {
  type: 'line',
  data: {
    datasets: [
      lineDs(stoK39, '#000', 2, 1, false),
      lineDs(stoD3, '#f08888', 1, 2, false),
      lineDs(stoK14, '#a0a0a0', 2, 3, false)
    ]
  },
  options: Object.assign(baseOpts(0), {scales: {x: xScale(false, 0), y: yScale(3.2, 109.8, stoTicks)}}),
  plugins: [panel({
    refs: [[80, []], [20, []], [50, [6, 3, 1, 3]]],
    extra: ch => arrowAt(ch, [68.2, 41.9, 15.7], 13, '#2be82b'),
    legend: ctx => {
      legendRow(ctx, 19, 6.7, 10, [['Slow STO %K(39) %D(1) 98.61, ', '#000'], ['98.61', '#f00']], lineIcon('#000'));
      legendRow(ctx, 19, 17.3, 10, [['Slow STO %K(14) %D(3) 96.24, ', '#000'], ['93.55', '#f00']], lineIcon('#000'));
    }
  })]
});

// $SOX:$NDX
new Chart(document.getElementById('cRatio'), {
  type: 'line',
  data: {
    datasets: [
      lineDs(ratio, '#000', 1.6, 1, false),
      lineDs(ema20, '#2424a4', 1.2, 2, true)
    ]
  },
  options: Object.assign(baseOpts(0), {scales: {x: xScale(true, 15), y: yScale(0.13257, 0.15863, ratioTicks, v => v.toFixed(3))}}),
  plugins: [panel({
    span: 'last',
    extra: ch => arrowAt(ch, [98.4, 0.1428, 0.1397], 12, '#666'),
    legend: ctx => {
      legendRow(ctx, 19, 17, 10.5, [['$SOX:$NDX (Daily) 0.154', '#000']], lineIcon('#000'));
      legendRow(ctx, 19, 27.7, 10, [['EMA(20) 0.151', '#1a1a9a']], lineIcon('#1a1a9a'));
    }
  })]
});
</script>
</body>
</html>
